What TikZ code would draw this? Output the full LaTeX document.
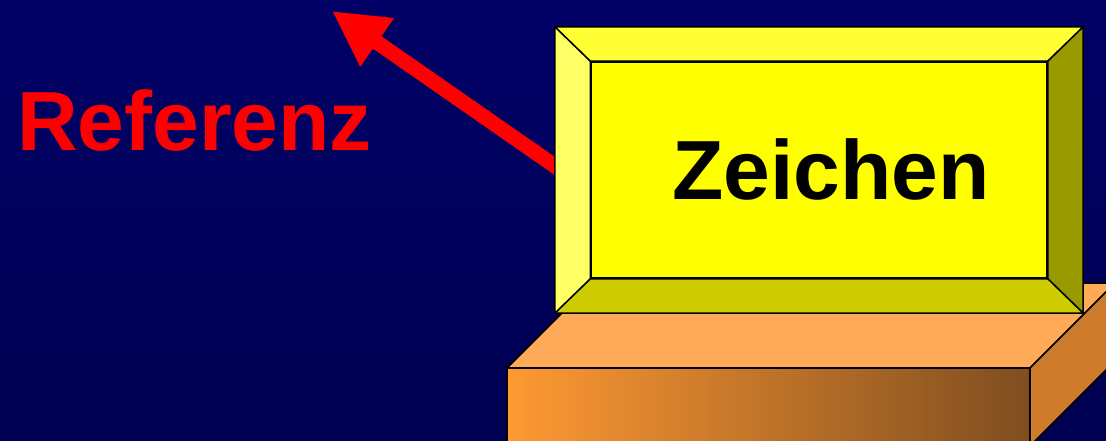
\documentclass[tikz,border=0pt]{standalone}
\usepackage{xcolor}
\usepackage{fontspec}
\setmainfont{Liberation Sans}
\usepackage{tikz}
\usetikzlibrary{arrows.meta,calc}

\definecolor{navytop}{RGB}{0,0,102}
\definecolor{navybot}{RGB}{0,0,82}
\definecolor{slabtop}{RGB}{255,170,88}
\definecolor{slabfront}{RGB}{255,153,51}
\definecolor{slabmid}{RGB}{236,143,49}
\definecolor{slabdark}{RGB}{127,77,31}
\definecolor{slabside}{RGB}{206,124,44}
\definecolor{signyellow}{RGB}{255,255,0}
\definecolor{bevtop}{RGB}{255,255,51}
\definecolor{bevleft}{RGB}{255,255,102}
\definecolor{bevright}{RGB}{153,153,0}
\definecolor{bevbottom}{RGB}{204,204,0}
\definecolor{arrowred}{RGB}{255,0,0}

\tikzset{
  edge/.style={draw=black, line width=1.5pt, line join=round},
  bigtext/.style={anchor=base west, inner sep=0pt, font=\bfseries\fontsize{84}{84}\selectfont}
}

\begin{document}
\begin{tikzpicture}[x=1pt,y=-1pt]
\useasboundingbox (0,0) rectangle (1106,441);
\clip (0,0) rectangle (1106,441);
\fill[top color=navytop, bottom color=navybot] (0,0) rectangle (1106,441);
% block underneath
\filldraw[edge, fill=slabtop] (507,368) -- (1030,368) -- (1115,283) -- (592,283) -- cycle;
\draw[edge, left color=slabfront, middle color=slabmid, right color=slabdark] (507,368) rectangle (1030,446);
\filldraw[edge, fill=slabside] (1030,368) -- (1115,283) -- (1115,361) -- (1030,446) -- cycle;
% sign
\node[inner sep=0pt, minimum width=528pt, minimum height=286pt] (tafel) at (819,170) {};
\node[edge, fill=signyellow, inner sep=0pt, minimum width=456pt, minimum height=216pt] (feld) at (819,170) {};
\coordinate (spitze) at (332,11);
\draw[arrowred, line width=15pt, -{Triangle[length=55pt,width=55pt]}, shorten <=-12pt] ($(tafel.west)+(0,-4)$) -- (spitze);
\filldraw[edge, fill=bevtop] (tafel.north west) -- (tafel.north east) -- (feld.north east) -- (feld.north west) -- cycle;
\filldraw[edge, fill=bevright] (tafel.north east) -- (tafel.south east) -- (feld.south east) -- (feld.north east) -- cycle;
\filldraw[edge, fill=bevbottom] (tafel.south west) -- (tafel.south east) -- (feld.south east) -- (feld.south west) -- cycle;
\filldraw[edge, fill=bevleft] (tafel.north west) -- (tafel.south west) -- (feld.south west) -- (feld.north west) -- cycle;
\node[bigtext, text=black] (zeichen) at (672,199) {Zeichen};
\node[bigtext, text=arrowred] (referenz) at (17,151) {Referenz};
\end{tikzpicture}
\end{document}
